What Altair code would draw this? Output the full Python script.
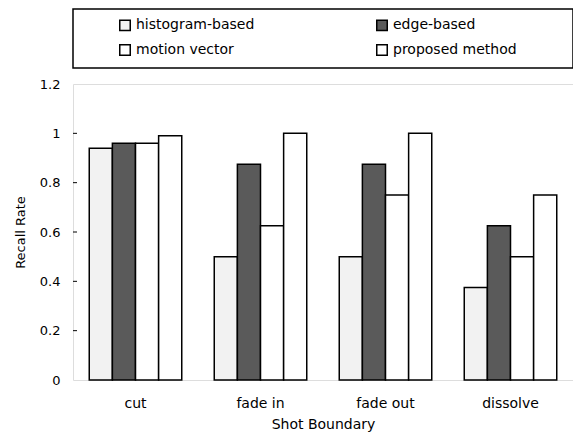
import altair as alt
import pandas as pd

categories = ["cut", "fade in", "fade out", "dissolve"]
methods = ["histogram-based", "edge-based", "motion vector", "proposed method"]
histogram_based = [0.94, 0.5, 0.5, 0.375]
edge_based = [0.96, 0.875, 0.875, 0.625]
motion_vector = [0.96, 0.625, 0.75, 0.5]
proposed_method = [0.99, 1.0, 1.0, 0.75]
y_ticks = [0, 0.2, 0.4, 0.6, 0.8, 1, 1.2]
fills = ["#f2f2f2", "#5a5a5a", "#ffffff", "#ffffff"]

series = [histogram_based, edge_based, motion_vector, proposed_method]
rows = []
for m, vals in zip(methods, series):
    for c, v in zip(categories, vals):
        rows.append({"boundary": c, "method": m, "rate": v})
df = pd.DataFrame(rows)

FONT = "DejaVu Sans"

bars = alt.Chart(df).mark_bar(stroke="black", strokeWidth=1.5).encode(
    x=alt.X("boundary:N", sort=categories,
            scale=alt.Scale(paddingInner=0.26, paddingOuter=0.13),
            axis=alt.Axis(title="Shot Boundary", labelAngle=0, ticks=False,
                          domain=False, labelPadding=16, titlePadding=7,
                          labelFontSize=14, titleFontSize=14,
                          labelFont=FONT, titleFont=FONT,
                          labelColor="black", titleColor="black",
                          titleFontWeight="normal")),
    xOffset=alt.XOffset("method:N", sort=methods,
                        scale=alt.Scale(paddingInner=0, paddingOuter=0)),
    y=alt.Y("rate:Q", scale=alt.Scale(domain=[0, 1.2], nice=False),
            axis=alt.Axis(title="Recall Rate", values=y_ticks, format="~g",
                          ticks=False, domain=False, grid=False,
                          labelPadding=13, titlePadding=12,
                          labelFontSize=13, titleFontSize=13,
                          labelFont=FONT, titleFont=FONT,
                          labelColor="black", titleColor="black",
                          titleFontWeight="normal")),
    color=alt.Color("method:N", sort=methods,
                    scale=alt.Scale(domain=methods, range=fills),
                    legend=alt.Legend(title=None, orient="none",
                                      direction="horizontal",
                                      legendX=45, legendY=-66,
                                      columns=2, columnPadding=118,
                                      rowPadding=7, symbolType="square",
                                      symbolSize=110, symbolStrokeColor="black",
                                      symbolStrokeWidth=1.5, symbolOpacity=1,
                                      labelFont=FONT, labelFontSize=14,
                                      labelColor="black", labelOffset=4)),
)

tick_df = pd.DataFrame({"t": y_ticks[1:-1]})
ticks = alt.Chart(tick_df).mark_rule(color="black", strokeWidth=1).encode(
    y=alt.Y("t:Q"), x=alt.value(0), x2=alt.value(4)
)

box = alt.Chart(pd.DataFrame({"a": [0]})).mark_rect(
    fill=None, stroke="black", strokeWidth=1.5
).encode(x=alt.value(0), x2=alt.value(500), y=alt.value(-75), y2=alt.value(-16))

chart = alt.layer(bars, ticks, box).properties(
    width=500, height=296,
    autosize=alt.AutoSizeParams(type="none"),
    padding={"left": 65, "top": 76, "right": 0, "bottom": 52},
).configure_view(stroke="black", strokeWidth=1.5).configure(background="white")

chart.save("out.html", embed_options={"renderer": "svg", "actions": False})
